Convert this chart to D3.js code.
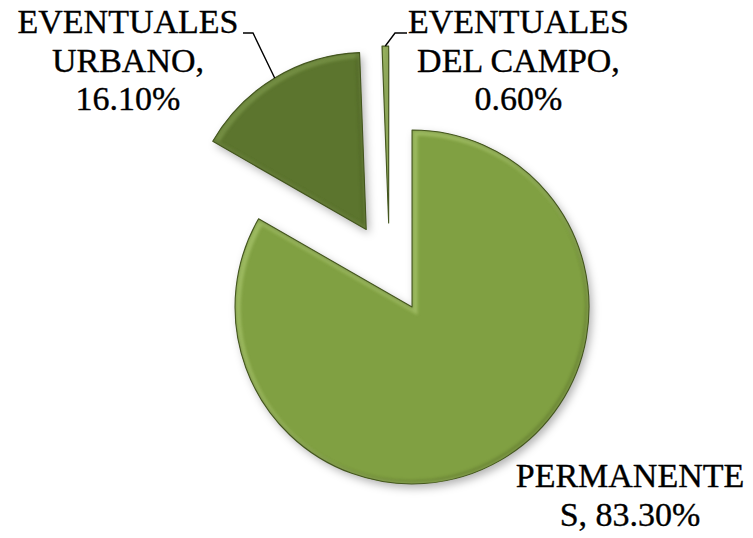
<!DOCTYPE html>
<html><head><meta charset="utf-8">
<script src="https://cdn.jsdelivr.net/npm/d3@7"></script>
<style>html,body{margin:0;padding:0;background:#fff}svg{display:block}</style>
</head><body>
<script>
// ---- data ----
const categories = ["PERMANENTES", "EVENTUALES URBANO", "EVENTUALES DEL CAMPO"];
const values = [83.3, 16.1, 0.6];
const labelLines = [
  ["PERMANENTE", "S, 83.30%"],
  ["EVENTUALES", "URBANO,", "16.10%"],
  ["EVENTUALES", "DEL CAMPO,", "0.60%"]
];

// ---- layout / style ----
const W = 753, H = 538;
const cx = 389.5, cy = 268, R = 177, explode = 45;
const colors = ["#80a043", "#5b752f", "#86a648"];
const highlight = ["#a6c36a", "#7a9548", "#b2cd78"];
const labelPos = [
  {x: 630, y: 487},
  {x: 128, y: 33},
  {x: 518.5, y: 33}
];
const leaderEnds = [null, [[253, 33], [243, 33]], [[395, 33], [407, 33]]];
const lineH = 38.5;

const svg = d3.select("body").append("svg").attr("width", W).attr("height", H);
const defs = svg.append("defs");
const sh = defs.append("filter").attr("id", "shadow")
  .attr("x", "-20%").attr("y", "-20%").attr("width", "140%").attr("height", "140%");
sh.append("feDropShadow").attr("dx", 3).attr("dy", 4).attr("stdDeviation", 4)
  .attr("flood-color", "#000").attr("flood-opacity", 0.3);
defs.append("filter").attr("id", "blur").append("feGaussianBlur").attr("stdDeviation", 1.6);

const pie = d3.pie().sort(null).value(d => d)(values);
const arc = d3.arc().innerRadius(0).outerRadius(R);

const g = svg.append("g").attr("transform", `translate(${cx},${cy})`);

pie.forEach((d, i) => {
  const mid = (d.startAngle + d.endAngle) / 2;
  const ox = Math.sin(mid) * explode, oy = -Math.cos(mid) * explode;
  const sg = g.append("g").attr("transform", `translate(${ox},${oy})`);
  const p = arc(d);
  defs.append("clipPath").attr("id", "clip" + i).append("path").attr("d", p);
  sg.append("path").attr("d", p).attr("fill", colors[i]).attr("filter", "url(#shadow)");
  const inner = sg.append("g").attr("clip-path", `url(#clip${i})`);
  inner.append("path").attr("d", p).attr("fill", "none")
    .attr("stroke", highlight[i]).attr("stroke-width", 7).attr("opacity", 0.75)
    .attr("filter", "url(#blur)").attr("transform", "translate(2,2)");
  inner.append("path").attr("d", p).attr("fill", "none")
    .attr("stroke", "#3c4c1c").attr("stroke-width", 5).attr("opacity", 0.25)
    .attr("filter", "url(#blur)").attr("transform", "translate(-1.5,-1.5)");
  sg.append("path").attr("d", p).attr("fill", "none")
    .attr("stroke", "#44561f").attr("stroke-width", 1.1).attr("stroke-linejoin", "round");

  // leader line
  if (leaderEnds[i]) {
    const sx = cx + ox + Math.sin(mid) * R, sy = cy + oy - Math.cos(mid) * R;
    const pts = [[sx, sy]].concat(leaderEnds[i]);
    svg.append("path").attr("d", d3.line()(pts)).attr("fill", "none")
      .attr("stroke", "#000").attr("stroke-width", 1.4);
  }
});

// labels
labelLines.forEach((lines, i) => {
  const t = svg.append("text").attr("text-anchor", "middle")
    .attr("font-family", "'Liberation Serif', 'DejaVu Serif', serif")
    .attr("font-size", 34).attr("fill", "#000")
    .attr("stroke", "#000").attr("stroke-width", 0.35);
  lines.forEach((ln, k) => {
    t.append("tspan").attr("x", labelPos[i].x).attr("y", labelPos[i].y + k * lineH).text(ln);
  });
});
</script>
</body></html>
